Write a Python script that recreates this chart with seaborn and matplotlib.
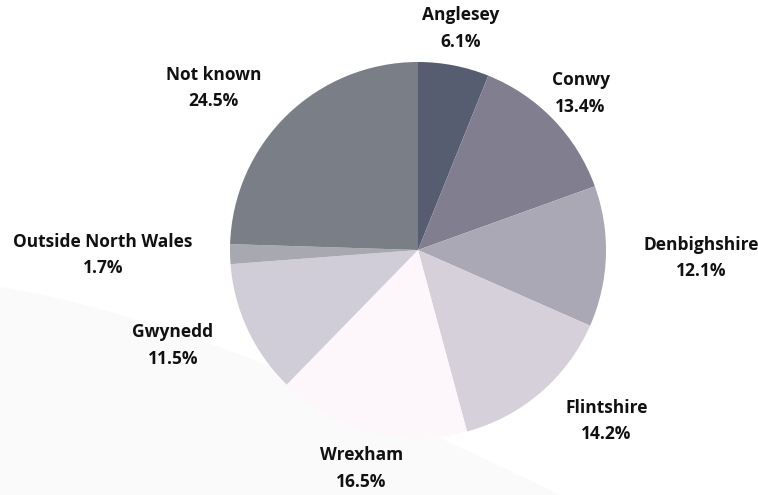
import numpy as np
import seaborn as sns
import matplotlib.pyplot as plt
from matplotlib.path import Path
from matplotlib.patches import PathPatch

areas = ['Anglesey', 'Conwy', 'Denbighshire', 'Flintshire', 'Wrexham',
         'Gwynedd', 'Outside North Wales', 'Not known']
shares = [6.1, 13.4, 12.1, 14.2, 16.5, 11.5, 1.7, 24.5]
colours = ['#575d70', '#817f8f', '#aba8b5', '#d6d0da', '#fdf6fb',
           '#d0cdd8', '#a8a9b0', '#7a7e86']
# horizontal alignment of each label around its anchor point
align = ['center', 'center', 'left', 'left', 'center', 'right', 'right', 'right']

sns.set_theme(style="white")
plt.rcParams['font.family'] = ['Open Sans', 'DejaVu Sans']

W, H = 758, 495
fig = plt.figure(figsize=(W / 100, H / 100), dpi=100)
fig.patch.set_facecolor('white')

# faint grey background swoosh in the lower left
codes = [Path.MOVETO, Path.CURVE3, Path.CURVE3, Path.LINETO, Path.CLOSEPOLY]
verts = [(0, 1 - 287 / H), (200 / W, 1 - 318 / H), (560 / W, 0),
         (0, 0), (0, 1 - 287 / H)]
fig.patches.append(PathPatch(Path(verts, codes), transform=fig.transFigure,
                             facecolor='#fafafa', edgecolor='none', zorder=-5))

ax = fig.add_axes([0, 0, 1, 1])
ax.patch.set_alpha(0)
R = 188.0
cx, cy = 418.0, 245.0

wedges, _ = ax.pie(shares, colors=colours, startangle=90, counterclock=False,
                   radius=1, wedgeprops=dict(linewidth=0))
ax.set_aspect('auto')
ax.set_xlim(-cx / R, (W - cx) / R)
ax.set_ylim(-cy / R, (H - cy) / R)
ax.axis('off')

for w, name, val, ha in zip(wedges, areas, shares, align):
    mid = np.deg2rad((w.theta1 + w.theta2) / 2)
    x, y = 1.2 * np.cos(mid), 1.2 * np.sin(mid)
    ax.text(x, y, f'{name}\n{val}%', ha=ha, va='center', multialignment='center',
            fontsize=12.5, fontweight='bold', color='#111111', linespacing=1.6)

plt.savefig('out.png', dpi=100)
